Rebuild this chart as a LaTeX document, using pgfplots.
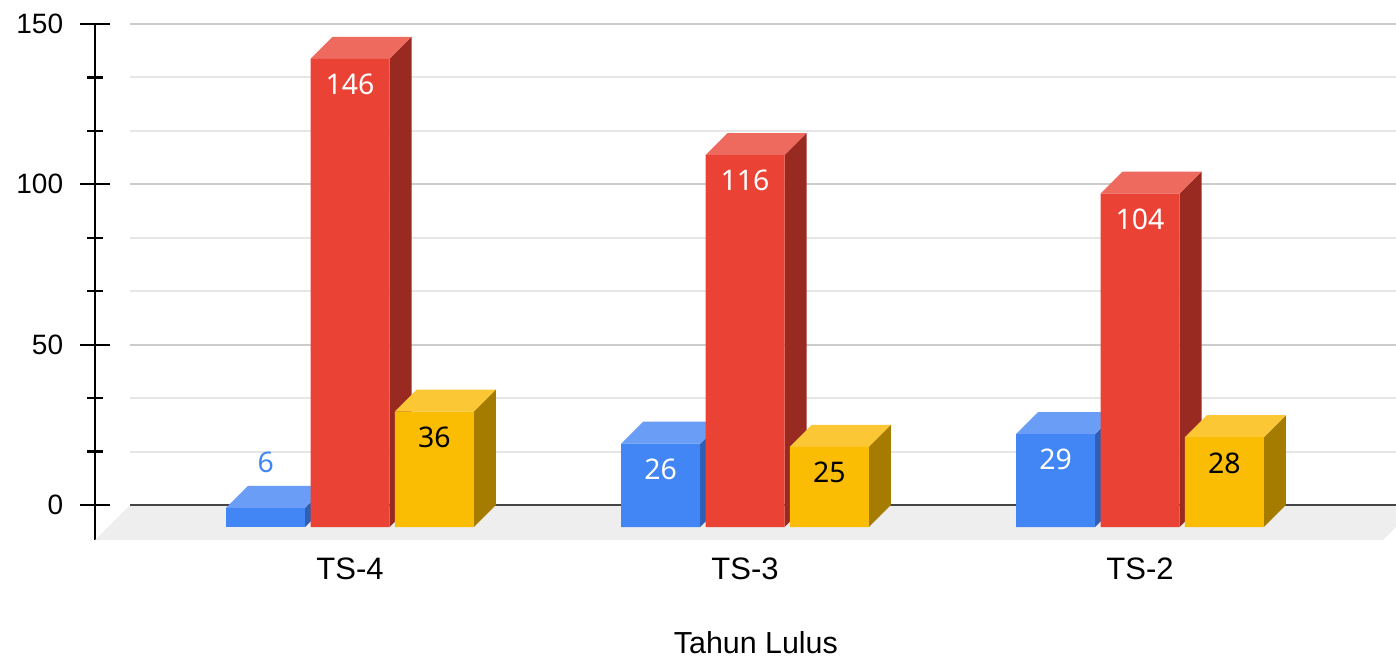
\documentclass[border=0pt]{standalone}
\usepackage{pgfplots}
\pgfplotsset{compat=1.18}
\usepackage{fontspec}
\setmainfont{Liberation Sans}
\newfontfamily\lblfont{Noto Sans}
\definecolor{bfront}{HTML}{4285F4}
\definecolor{btop}{HTML}{699DF6}
\definecolor{bside}{HTML}{2F5FB5}
\definecolor{rfront}{HTML}{EA4335}
\definecolor{rtop}{HTML}{EE695E}
\definecolor{rside}{HTML}{992A22}
\definecolor{yfront}{HTML}{FBBC04}
\definecolor{ytop}{HTML}{FBC734}
\definecolor{yside}{HTML}{A67C00}
\definecolor{floorc}{HTML}{EEEEEE}
\definecolor{gmajor}{HTML}{CCCCCC}
\definecolor{gminor}{HTML}{E6E6E6}
\definecolor{zeroc}{HTML}{444444}
\begin{document}
\begin{tikzpicture}
\useasboundingbox (0,0) rectangle (698bp,329bp);
\begin{axis}[
  at={(47.5bp,59bp)}, anchor=south west,
  scale only axis, width=650.5bp, height=258bp,
  xmin=-0.6456, xmax=2.648, ymin=-4.05, ymax=156.86,
  clip=false,
  /pgf/number format/assume math mode=true,
  axis lines=left,
  axis line style={-},
  x axis line style={draw=none},
  y axis line style={black, line width=1.1bp},
  xtick={0,1,2}, xticklabels={TS-4,TS-3,TS-2},
  x tick style={draw=none},
  x tick label style={font=\fontsize{15.5bp}{15.5bp}\selectfont, anchor=north, inner sep=0pt, yshift=-1.5bp},
  ytick={6.86,56.86,106.86,156.86}, yticklabels={0,50,100,150},
  minor ytick={23.527,40.193,73.527,90.193,123.527,140.193},
  tick align=center,
  major tick length=14.5bp, minor tick length=7.5bp,
  y tick style={black, line width=1.1bp},
  minor y tick style={black, line width=1.1bp},
  y tick label style={font=\fontsize{14bp}{14bp}\selectfont, anchor=east, inner sep=0pt, xshift=-8.5bp},
  xlabel={Tahun Lulus},
  xlabel style={at={(axis description cs:0.508,-0.219)}, anchor=base, inner sep=0pt, font=\fontsize{15.2bp}{15.2bp}\selectfont},
  lbl/.style={nodes near coords={\pgfmathprintnumber[assume math mode=true]{\pgfplotspointmeta}},
    every node near coord/.append style={font=\lblfont\fontsize{14.2bp}{14.2bp}\selectfont, inner sep=0pt}},
]
% floor
\addplot[fill=floorc, draw=none] coordinates {(-0.6456,-4.05) (-0.557,6.86) (2.648,6.86) (2.648,0) (2.6152,-4.05)} -- cycle;
% grid
\pgfplotsinvokeforeach{23.527,40.193,73.527,90.193,123.527,140.193}{
  \draw[gminor, line width=1bp] (axis cs:-0.557,#1) -- (axis cs:2.648,#1);
}
\pgfplotsinvokeforeach{56.86,106.86,156.86}{
  \draw[gmajor, line width=1bp] (axis cs:-0.557,#1) -- (axis cs:2.648,#1);
}
\draw[zeroc, line width=1.1bp] (axis cs:-0.557,6.86) -- (axis cs:2.648,6.86);

% ---- blue series: 6, 26, 29
\addplot[fill=bside, draw=none] coordinates {(-0.1135,0) (-0.0578,6.86) (-0.0578,12.86) (-0.1135,6)} -- cycle;
\addplot[fill=btop, draw=none] coordinates {(-0.3135,6) (-0.1135,6) (-0.0578,12.86) (-0.2578,12.86)} -- cycle;
\addplot[fill=bside, draw=none] coordinates {(0.8865,0) (0.9422,6.86) (0.9422,32.86) (0.8865,26)} -- cycle;
\addplot[fill=btop, draw=none] coordinates {(0.6865,26) (0.8865,26) (0.9422,32.86) (0.7422,32.86)} -- cycle;
\addplot[fill=bside, draw=none] coordinates {(1.8865,0) (1.9422,6.86) (1.9422,35.86) (1.8865,29)} -- cycle;
\addplot[fill=btop, draw=none] coordinates {(1.6865,29) (1.8865,29) (1.9422,35.86) (1.7422,35.86)} -- cycle;
\addplot[ybar, bar width=0.2, bar shift=-0.2135, fill=bfront, draw=none, lbl,
  every node near coord/.append style={text=bfront, xshift=-42.17bp, yshift=17.25bp}]
  coordinates {(0,6)};
\addplot[ybar, bar width=0.2, bar shift=-0.2135, fill=bfront, draw=none, lbl,
  every node near coord/.append style={text=white, xshift=-42.17bp, yshift=-18.3bp}]
  coordinates {(1,26) (2,29)};

% ---- red series: 146, 116, 104
\addplot[fill=rside, draw=none] coordinates {(0.1,0) (0.1557,6.86) (0.1557,152.86) (0.1,146)} -- cycle;
\addplot[fill=rtop, draw=none] coordinates {(-0.1,146) (0.1,146) (0.1557,152.86) (-0.0443,152.86)} -- cycle;
\addplot[fill=rside, draw=none] coordinates {(1.1,0) (1.1557,6.86) (1.1557,122.86) (1.1,116)} -- cycle;
\addplot[fill=rtop, draw=none] coordinates {(0.9,116) (1.1,116) (1.1557,122.86) (0.9557,122.86)} -- cycle;
\addplot[fill=rside, draw=none] coordinates {(2.1,0) (2.1557,6.86) (2.1557,110.86) (2.1,104)} -- cycle;
\addplot[fill=rtop, draw=none] coordinates {(1.9,104) (2.1,104) (2.1557,110.86) (1.9557,110.86)} -- cycle;
\addplot[ybar, bar width=0.2, bar shift=0, fill=rfront, draw=none, lbl,
  every node near coord/.append style={text=white, yshift=-18.3bp}]
  coordinates {(0,146) (1,116) (2,104)};

% ---- yellow series: 36, 25, 28
\addplot[fill=yside, draw=none] coordinates {(0.3135,0) (0.3692,6.86) (0.3692,42.86) (0.3135,36)} -- cycle;
\addplot[fill=ytop, draw=none] coordinates {(0.1135,36) (0.3135,36) (0.3692,42.86) (0.1692,42.86)} -- cycle;
\addplot[fill=yside, draw=none] coordinates {(1.3135,0) (1.3692,6.86) (1.3692,31.86) (1.3135,25)} -- cycle;
\addplot[fill=ytop, draw=none] coordinates {(1.1135,25) (1.3135,25) (1.3692,31.86) (1.1692,31.86)} -- cycle;
\addplot[fill=yside, draw=none] coordinates {(2.3135,0) (2.3692,6.86) (2.3692,34.86) (2.3135,28)} -- cycle;
\addplot[fill=ytop, draw=none] coordinates {(2.1135,28) (2.3135,28) (2.3692,34.86) (2.1692,34.86)} -- cycle;
\addplot[ybar, bar width=0.2, bar shift=0.2135, fill=yfront, draw=none, lbl,
  every node near coord/.append style={text=black, xshift=42.17bp, yshift=-18.3bp}]
  coordinates {(0,36) (1,25) (2,28)};
\end{axis}
\end{tikzpicture}
\end{document}
